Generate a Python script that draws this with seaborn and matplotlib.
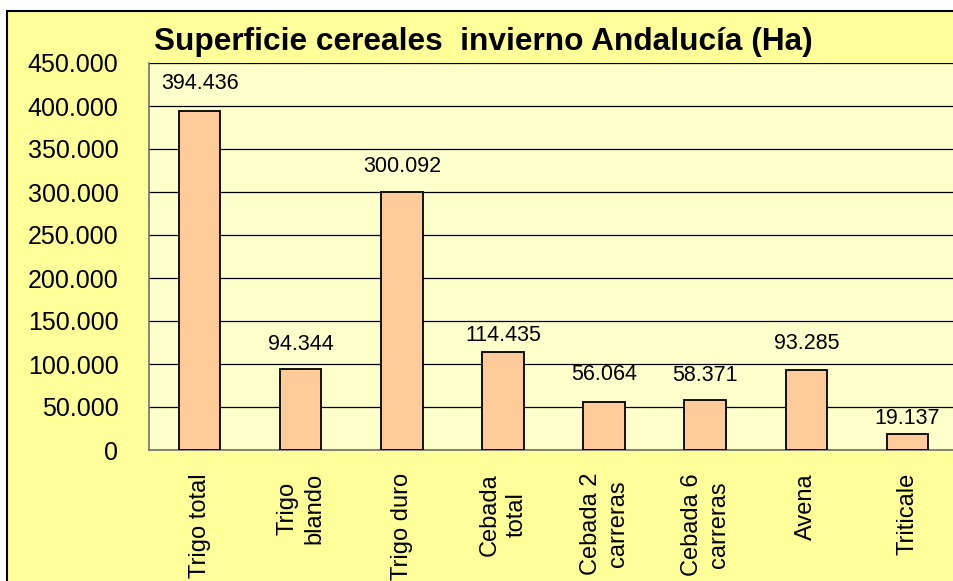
import numpy as np
import pandas as pd
import matplotlib
matplotlib.use("Agg")
import matplotlib.pyplot as plt
import seaborn as sns
from matplotlib.patches import Rectangle
from matplotlib.ticker import FuncFormatter, FixedLocator

# data
categories = ["Trigo total", "Trigo\nblando", "Trigo duro", "Cebada\ntotal",
              "Cebada 2\ncarreras", "Cebada 6\ncarreras", "Avena", "Triticale"]
hectares = [394436, 94344, 300092, 114435, 56064, 58371, 93285, 19137]
y_ticks = [0, 50000, 100000, 150000, 200000, 250000, 300000, 350000, 400000, 450000]
title = "Superficie cereales  invierno Andalucía (Ha)"

# label gaps above the bars (points), as placed in the original
label_gap = [12, 10, 11, 4, 12, 10, 11, 3]

sns.set_style("white")
plt.rcParams['font.family'] = ['Liberation Sans', 'DejaVu Sans']
plt.rcParams['text.color'] = 'black'
plt.rcParams['xtick.labelcolor'] = 'black'
plt.rcParams['ytick.labelcolor'] = 'black'


def miles(v, pos=None):
    return f"{int(round(v)):,}".replace(",", ".")


df = pd.DataFrame({"cereal": categories, "ha": hectares})

W, H = 954, 581
fig = plt.figure(figsize=(W / 100, H / 100), dpi=100, facecolor="white")

# outer chart frame
fig.patches.append(Rectangle((7 / W, -0.05), 2, 1 - 11 / H + 0.05,
                             transform=fig.transFigure, facecolor="#FFFF99",
                             edgecolor="black", linewidth=1.5, zorder=-10))

ax = fig.add_axes([149 / W, (H - 450) / H, (958 - 149) / W, (450 - 63) / H])
ax.set_facecolor("#FFFFCC")

sns.barplot(data=df, x="cereal", y="ha", color="#FFCC99", saturation=1,
            edgecolor="black", linewidth=1.3, width=0.41, ax=ax, zorder=3)

for i, (v, gap) in enumerate(zip(hectares, label_gap)):
    ax.annotate(miles(v), (i, v), xytext=(0, gap), textcoords="offset points",
                ha="center", va="bottom", fontsize=15.5, color="black", zorder=4)

ax.set_ylim(0, 450000)
ax.set_xlim(-0.5, len(categories) - 0.5)
ax.yaxis.set_major_locator(FixedLocator(y_ticks))
ax.yaxis.set_major_formatter(FuncFormatter(miles))
ax.yaxis.grid(True, color="black", linewidth=0.9)
ax.set_axisbelow(True)

ax.set_xlabel("")
ax.set_ylabel("")
ax.tick_params(axis="y", direction="out", length=5, width=1, color="#707070",
               pad=17, labelsize=18)
ax.tick_params(axis="x", which="major", length=0, pad=16.5, labelsize=17)
ax.set_xticks(np.arange(len(categories)))
ax.set_xticklabels(categories, rotation=90, ha="center", va="top",
                   linespacing=1.3, multialignment="center")
ax.set_xticks(np.arange(len(categories) + 1) - 0.5, minor=True)
ax.tick_params(axis="x", which="minor", direction="out", length=6, width=1,
               color="#707070")

for s in ["top", "right"]:
    ax.spines[s].set_visible(False)
for s in ["left", "bottom"]:
    ax.spines[s].set_color("#707070")
    ax.spines[s].set_linewidth(1.2)

fig.text(483 / W, 1 - 42 / H, title, ha="center", va="center",
         fontsize=22.8, fontweight="bold", color="black")

fig.savefig("out.png", dpi=100, facecolor=fig.get_facecolor())
